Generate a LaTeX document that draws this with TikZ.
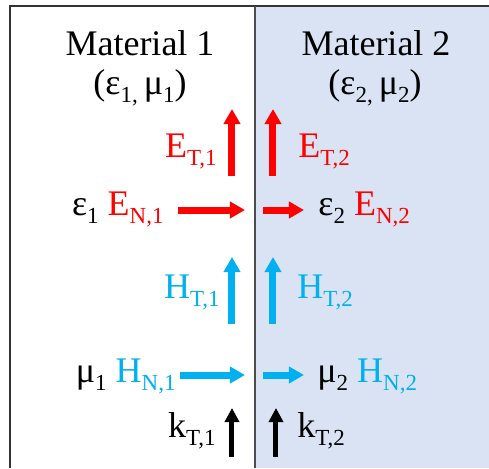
\documentclass[tikz,border=0pt]{standalone}
\usepackage{fontspec}
\setmainfont{Liberation Serif}
\usetikzlibrary{arrows.meta}
\definecolor{efield}{RGB}{255,0,0}
\definecolor{hfield}{RGB}{0,176,240}
\definecolor{mattwo}{RGB}{218,227,243}
\newcommand{\lowsub}[1]{\raisebox{-4pt}{\fontsize{11.5}{12}\selectfont #1}}

\begin{document}
\begin{tikzpicture}[
    x=0.5pt, y=-0.5pt,
    lbl/.style={font=\fontsize{18}{20}\selectfont, inner sep=0pt},
    vec/.style={line width=3.5pt, -{Triangle[width=8pt, length=7.5pt]}},
    kvec/.style={line width=2.5pt, -{Triangle[width=7pt, length=7pt]}}
]
\useasboundingbox (0,0) rectangle (489,468);

% the two materials
\fill[mattwo] (255,6) rectangle (489,468);
\draw[line width=0.8pt, black!80] (10,468) -- (10,6) -- (489,6);
\draw[line width=0.8pt, black!70] (255,6) -- (255,468);

\node[lbl, anchor=base] (mat1) at (140,55) {Material 1};
\node[lbl, anchor=base] (par1) at (140,94) {(ε\lowsub{1,}\,μ\lowsub{1})};
\node[lbl, anchor=base] (mat2) at (376,55) {Material 2};
\node[lbl, anchor=base] (par2) at (375,94) {(ε\lowsub{2,}\,μ\lowsub{2})};

% field labels
\node[lbl, text=efield, anchor=base east] (et1) at (217,157) {E\lowsub{T,1}};
\node[lbl, text=efield, anchor=base west] (et2) at (298,157) {E\lowsub{T,2}};
\node[lbl, anchor=base east] (en1) at (164,215) {ε\lowsub{1} \textcolor{efield}{E\lowsub{N,1}}};
\node[lbl, anchor=base west] (en2) at (318,215) {ε\lowsub{2} \textcolor{efield}{E\lowsub{N,2}}};
\node[lbl, text=hfield, anchor=base east] (ht1) at (220,298) {H\lowsub{T,1}};
\node[lbl, text=hfield, anchor=base west] (ht2) at (297,298) {H\lowsub{T,2}};
\node[lbl, anchor=base east] (hn1) at (176,382) {μ\lowsub{1} \textcolor{hfield}{H\lowsub{N,1}}};
\node[lbl, anchor=base west] (hn2) at (317,382) {μ\lowsub{2} \textcolor{hfield}{H\lowsub{N,2}}};
\node[lbl, anchor=base east] (kt1) at (216,437) {k\lowsub{T,1}};
\node[lbl, anchor=base west] (kt2) at (297,437) {k\lowsub{T,2}};

% arrow ends
\coordinate (et1a) at (232,176); \coordinate (et1b) at (232,109);
\coordinate (et2a) at (273,176); \coordinate (et2b) at (273,109);
\coordinate (en1a) at (178,210); \coordinate (en1b) at (245,210);
\coordinate (en2a) at (263,210); \coordinate (en2b) at (304,210);
\coordinate (ht1a) at (232,324); \coordinate (ht1b) at (232,257);
\coordinate (ht2a) at (273,324); \coordinate (ht2b) at (273,257);
\coordinate (hn1a) at (180,375); \coordinate (hn1b) at (245,375);
\coordinate (hn2a) at (263,375); \coordinate (hn2b) at (304,375);
\coordinate (kt1a) at (232,457); \coordinate (kt1b) at (232,408);
\coordinate (kt2a) at (276,457); \coordinate (kt2b) at (276,408);

\draw[vec, efield] (et1a) -- (et1b);
\draw[vec, efield] (et2a) -- (et2b);
\draw[vec, efield] (en1a) -- (en1b);
\draw[vec, efield] (en2a) -- (en2b);
\draw[vec, hfield] (ht1a) -- (ht1b);
\draw[vec, hfield] (ht2a) -- (ht2b);
\draw[vec, hfield] (hn1a) -- (hn1b);
\draw[vec, hfield] (hn2a) -- (hn2b);
\draw[kvec] (kt1a) -- (kt1b);
\draw[kvec] (kt2a) -- (kt2b);

\end{tikzpicture}
\end{document}
